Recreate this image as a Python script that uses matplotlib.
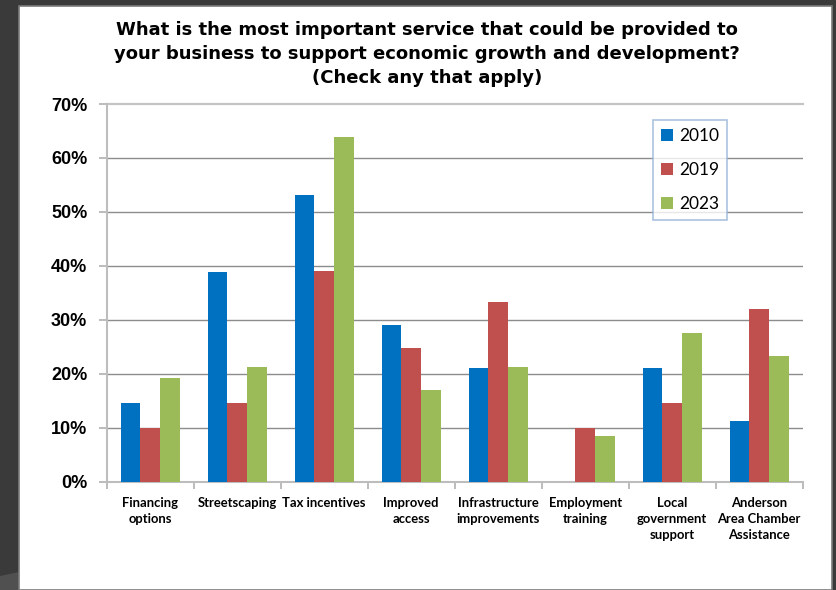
import matplotlib
matplotlib.use("Agg")
import matplotlib.pyplot as plt
import numpy as np
from matplotlib.patches import Rectangle, Polygon

categories = ["Financing\noptions", "Streetscaping", "Tax incentives", "Improved\naccess",
              "Infrastructure\nimprovements", "Employment\ntraining", "Local\ngovernment\nsupport",
              "Anderson\nArea Chamber\nAssistance"]
years = ["2010", "2019", "2023"]
v2010 = [14.5, 38.8, 53.2, 29.0, 21.0, 0.0, 21.0, 11.2]
v2019 = [10.0, 14.5, 39.1, 24.7, 33.3, 10.0, 14.5, 32.0]
v2023 = [19.2, 21.3, 63.8, 17.0, 21.3, 8.5, 27.6, 23.3]
yticks = [0, 10, 20, 30, 40, 50, 60, 70]
ytick_labels = ["0%", "10%", "20%", "30%", "40%", "50%", "60%", "70%"]
title_lines = ["What is the most important service that could be provided to",
               "your business to support economic growth and development?",
               "(Check any that apply)"]
colors = ["#0070C0", "#C0504D", "#9BBB59"]

W, H = 836, 590
fig = plt.figure(figsize=(W / 100, H / 100), dpi=100)
fig.patch.set_facecolor("#3a3a3a")

# slide frame
bg = fig.add_axes([0, 0, 1, 1], zorder=-5)
bg.set_xlim(0, W)
bg.set_ylim(H, 0)
bg.axis("off")
bg.add_patch(Polygon([(0, 576), (19, 572), (19, 590), (0, 590)], closed=True,
                     facecolor="#505050", edgecolor="none"))
bg.add_patch(Rectangle((19, 6), 832 - 19, 590 - 6, facecolor="white",
                       edgecolor="#7a7a7a", linewidth=1.2))
for txt, yb in zip(title_lines, [35, 59.3, 83]):
    bg.text(427, yb, txt, ha="center", va="baseline", fontfamily="DejaVu Sans",
            fontweight="bold", fontsize=13)

ax = fig.add_axes([106.7 / W, 1 - 481.7 / H, (802.7 - 106.7) / W, (481.7 - 104) / H], zorder=2)
ax.set_facecolor("none")

x = np.arange(len(categories))
bw = 0.227
for i, (vals, c, lab) in enumerate(zip([v2010, v2019, v2023], colors, years)):
    ax.bar(x + (i - 1) * bw, vals, width=bw, color=c, label=lab, zorder=3,
           edgecolor="none")

ax.set_xlim(-0.5, len(categories) - 0.5)
ax.set_ylim(0, 70)
ax.set_yticks(yticks)
ax.set_yticklabels(ytick_labels, fontfamily="Liberation Sans", fontweight="bold", fontsize=13)
for yv in yticks[1:-1]:
    ax.axhline(yv, color="#8c8c8c", linewidth=1.0, zorder=1)
ax.axhline(70, color="#c4c4c4", linewidth=1.6, zorder=1, clip_on=False)

ax.set_xticks(x)
ax.set_xticklabels(categories, fontfamily="Lato", fontweight="bold", fontsize=9.4,
                   linespacing=1.42, va="top")
ax.tick_params(axis="x", length=0, pad=11)
ax.set_xticks(np.arange(-0.5, len(categories)), minor=True)
ax.tick_params(axis="x", which="minor", length=5, color="#b0b0b0", width=1.2)
ax.tick_params(axis="y", length=6, color="#b0b0b0", width=1.2, pad=8)

for s in ["top", "right"]:
    ax.spines[s].set_visible(False)
for s in ["left", "bottom"]:
    ax.spines[s].set_color("#bdbdbd")
    ax.spines[s].set_linewidth(1.5)

leg = ax.legend(loc="upper left", bbox_to_anchor=(653 / W, 1 - 120 / H),
                bbox_transform=fig.transFigure, prop={"family": "Lato", "size": 12.5},
                frameon=True, fancybox=False, handlelength=0.72, handleheight=0.72,
                handletextpad=0.35, labelspacing=1.05, borderpad=0.45, borderaxespad=0)
leg.get_frame().set_edgecolor("#95b3d7")
leg.get_frame().set_linewidth(1.2)

fig.savefig("out.png", dpi=100, facecolor=fig.get_facecolor())
